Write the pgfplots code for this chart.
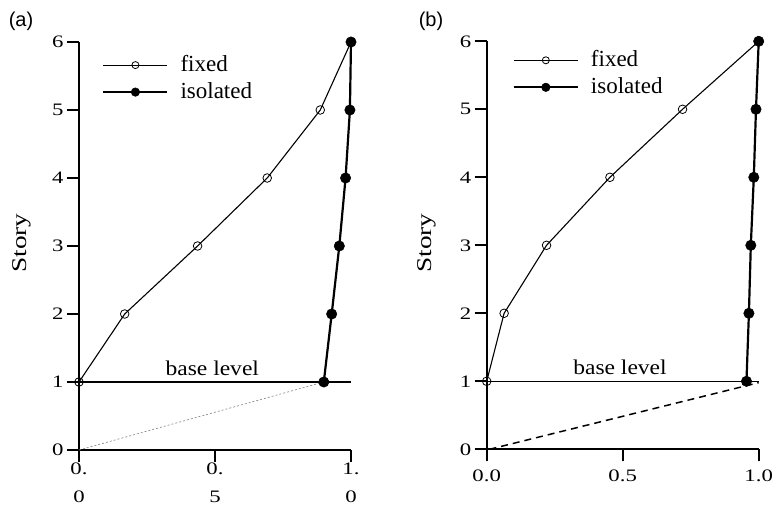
\documentclass[border=0pt]{standalone}
\usepackage{pgfplots}
\pgfplotsset{compat=1.18}
\usepackage{fontspec}
\setmainfont{Liberation Serif}
\newfontfamily\tickfont{Liberation Serif}[FakeStretch=1.3]
\newfontfamily\basefont{Liberation Serif}[FakeStretch=1.12]
\newfontfamily\sansfont{Liberation Sans}

\pgfplotsset{
  storyaxis/.style={
    scale only axis, width=272pt, height=408pt,
    xmin=0, xmax=1, ymin=0, ymax=6,
    clip=false,
    axis lines=left,
    axis line style={-, line width=2.4pt},
    tick style={line width=2.4pt, black},
    major tick length=12pt,
    tick align=outside,
    xtick={0,0.5,1}, ytick={0,1,2,3,4,5,6},
    /pgf/number format/assume math mode=true,
    ticklabel style={font=\tickfont\fontsize{17.5}{28}\selectfont},
    legend cell align=left,
    legend style={draw=none, fill=none, inner sep=0pt,
      font=\fontsize{23}{27}\selectfont, row sep=3pt,
      nodes={inner sep=1pt, text height=17pt, text depth=5pt}},
    legend image code/.code={%
      \begin{scope}[every mark/.append style={scale=0.82}]
      \draw[mark repeat=2, mark phase=2, #1] plot coordinates {(0pt,0pt) (32pt,0pt) (64pt,0pt)};
      \path (0pt,-4pt) (75pt,4pt);
      \end{scope}},
  },
  fixedstyle/.style={black, line width=1.1pt, mark=o, mark size=4.3pt, mark options={line width=0.8pt, fill=white}},
  isostyle/.style={black, line width=2.2pt, mark=*, mark size=5.2pt, mark options={line width=0.5pt}},
}

\begin{document}
\begin{tikzpicture}
\path[use as bounding box] (0,0) rectangle (776pt,505pt);

% ---------------- panel (a)
\begin{axis}[storyaxis, at={(79pt,55pt)}, anchor=south west,
  xticklabels={{0.\\0},{0.\\5},{1.\\0}},
  xticklabel style={align=center, yshift=3pt},
  legend style={at={(axis cs:0.085,5.84)}, anchor=north west},
]
\addplot[fixedstyle] coordinates {(0,1) (0.168,2) (0.436,3) (0.692,4) (0.887,5) (1.0,6)};
\addlegendentry{fixed}
\addplot[isostyle] coordinates {(0.90,1) (0.929,2) (0.957,3) (0.980,4) (0.996,5) (1.0,6)};
\addlegendentry{isolated}
\addplot[black, line width=1.4pt, forget plot] coordinates {(0,1) (1.0,1)};
\addplot[gray, line width=0.6pt, dash pattern=on 2pt off 2pt, forget plot] coordinates {(0,0) (0.9,1)};
\node[font=\basefont\fontsize{21}{24}\selectfont, anchor=base] at (axis cs:0.49,1.1) {base level};
\end{axis}

% ---------------- panel (b)
\begin{axis}[storyaxis, at={(486.7pt,55.7pt)}, anchor=south west,
  xticklabels={0.0,0.5,1.0},
  xticklabel style={yshift=-5pt},
  legend style={at={(axis cs:0.095,5.9)}, anchor=north west},
]
\addplot[fixedstyle] coordinates {(0,1) (0.064,2) (0.22,3) (0.453,4) (0.72,5) (1.0,6)};
\addlegendentry{fixed}
\addplot[isostyle] coordinates {(0.955,1) (0.964,2) (0.971,3) (0.982,4) (0.99,5) (1.0,6)};
\addlegendentry{isolated}
\addplot[black, line width=1.4pt, forget plot] coordinates {(0,1) (1.0,1)};
\addplot[black, line width=1.5pt, dash pattern=on 7pt off 5pt, forget plot] coordinates {(0.01,0) (1.0,0.98)};
\node[font=\basefont\fontsize{21}{24}\selectfont, anchor=base] at (axis cs:0.49,1.1) {base level};
\end{axis}

% ---------------- panel labels and axis titles
\node[font=\sansfont\fontsize{20}{24}\selectfont] at (21pt,484pt) {(a)};
\node[font=\sansfont\fontsize{20}{24}\selectfont] at (431pt,484pt) {(b)};
\node[font=\tickfont\fontsize{21}{24}\selectfont, rotate=90] at (22pt,262pt) {Story};
\node[font=\tickfont\fontsize{21}{24}\selectfont, rotate=90] at (427pt,262pt) {Story};
\end{tikzpicture}
\end{document}
